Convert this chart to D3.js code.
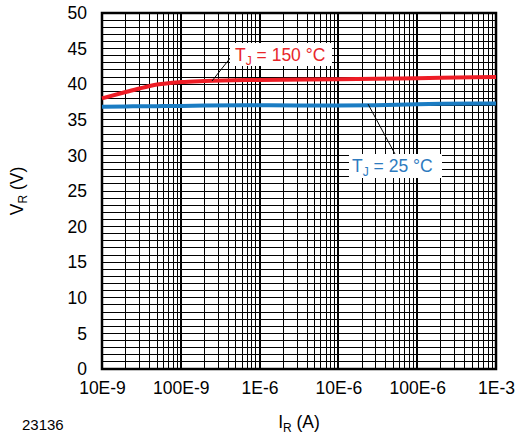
<!DOCTYPE html>
<html><head><meta charset="utf-8">
<script src="https://cdn.jsdelivr.net/npm/d3@7"></script>
<style>body{margin:0;background:#fff}svg{display:block}text{font-family:"Liberation Sans",Arial,sans-serif}</style>
</head><body>
<script>
const currents = [1e-8, 2e-8, 3e-8, 5e-8, 1e-7, 2e-7, 1e-6, 1e-5, 3e-5, 1e-4, 2e-4, 1e-3];
const vr150 = [38.0, 38.9, 39.4, 39.95, 40.3, 40.45, 40.6, 40.7, 40.75, 40.85, 40.9, 41.0];
const vr25 = [36.85, 36.88, 36.9, 36.92, 36.95, 37.0, 37.05, 37.0, 37.05, 37.2, 37.25, 37.3];
const xTicks = [1e-8, 1e-7, 1e-6, 1e-5, 1e-4, 1e-3];
const xTickLabels = ["10E-9", "100E-9", "1E-6", "10E-6", "100E-6", "1E-3"];
const yTicks = [0, 5, 10, 15, 20, 25, 30, 35, 40, 45, 50];

const W = 516, H = 437;
const m = {l: 102, r: 20, t: 13, b: 68};
const svg = d3.select("body").append("svg").attr("width", W).attr("height", H);
const x = d3.scaleLog().domain([1e-8, 1e-3]).range([m.l, W - m.r]);
const y = d3.scaleLinear().domain([0, 50]).range([H - m.b, m.t]);

// grid
const g = svg.append("g").attr("shape-rendering", "crispEdges");
const minorX = [];
for (let e = -8; e < -3; e++) for (let k = 2; k <= 9; k++) minorX.push(k * Math.pow(10, e));
g.selectAll(".vx").data(minorX).join("line")
  .attr("x1", d => x(d)).attr("x2", d => x(d)).attr("y1", y(0)).attr("y2", y(50))
  .attr("stroke", "#000").attr("stroke-width", 1);
g.selectAll(".vd").data(xTicks).join("line")
  .attr("x1", d => x(d)).attr("x2", d => x(d)).attr("y1", y(0)).attr("y2", y(50))
  .attr("stroke", "#000").attr("stroke-width", 2);
g.selectAll(".hy").data(d3.range(1, 50)).join("line")
  .attr("x1", x(1e-8)).attr("x2", x(1e-3)).attr("y1", d => y(d)).attr("y2", d => y(d))
  .attr("stroke", "#000").attr("stroke-width", 1);

// axes tick labels
const xa = svg.append("g").attr("transform", `translate(0,${y(0)})`)
  .call(d3.axisBottom(x).tickValues(xTicks).tickFormat((d, i) => xTickLabels[i]).tickSize(0).tickPadding(13));
xa.select(".domain").remove();
xa.selectAll("text").attr("font-size", 17.5).attr("fill", "#000").attr("font-family", "Liberation Sans, Arial, sans-serif");
const ya = svg.append("g").attr("transform", `translate(${x(1e-8)},0)`)
  .call(d3.axisLeft(y).tickValues(yTicks).tickSize(0).tickPadding(15));
ya.select(".domain").remove();
ya.selectAll("text").attr("font-size", 17.5).attr("fill", "#000").attr("font-family", "Liberation Sans, Arial, sans-serif");

// frame
svg.append("rect").attr("x", x(1e-8)).attr("y", y(50)).attr("width", x(1e-3) - x(1e-8)).attr("height", y(0) - y(50))
  .attr("fill", "none").attr("stroke", "#000").attr("stroke-width", 2.5);

// curves
const line = d3.line().x(d => x(d[0])).y(d => y(d[1])).curve(d3.curveMonotoneX);
svg.append("path").datum(currents.map((c, i) => [c, vr150[i]])).attr("d", line)
  .attr("fill", "none").attr("stroke", "#ee1c25").attr("stroke-width", 4);
svg.append("path").datum(currents.map((c, i) => [c, vr25[i]])).attr("d", line)
  .attr("fill", "none").attr("stroke", "#1a7cc3").attr("stroke-width", 4);

// labels
function label(bx, by, bw, bh, tx, ty, num, color, lx1, ly1, lx2, ly2) {
  svg.append("line").attr("x1", lx1).attr("y1", ly1).attr("x2", lx2).attr("y2", ly2).attr("stroke", "#000").attr("stroke-width", 1);
  svg.append("rect").attr("x", bx).attr("y", by).attr("width", bw).attr("height", bh).attr("fill", "#fff");
  const t = svg.append("text").attr("x", tx).attr("y", ty).attr("font-size", 17.5).attr("fill", color);
  t.append("tspan").text("T");
  t.append("tspan").attr("font-size", 12).attr("dy", 4).text("J");
  t.append("tspan").attr("dy", -4).text(" = " + num + " °C");
}
label(230, 43, 102, 23, 235, 61, "150", "#e8262a", 231, 57, 212, 81);
label(349, 154, 93, 24, 352, 172, "25", "#2e7bbf", 368, 104, 395, 154);

// axis titles
const yl = svg.append("text").attr("transform", `translate(23,${(y(0) + y(50)) / 2}) rotate(-90)`)
  .attr("text-anchor", "middle").attr("font-size", 17.5).attr("fill", "#000");
yl.append("tspan").text("V");
yl.append("tspan").attr("font-size", 12).attr("dy", 4).text("R");
yl.append("tspan").attr("dy", -4).text(" (V)");
const xl = svg.append("text").attr("x", (x(1e-8) + x(1e-3)) / 2).attr("y", 428)
  .attr("text-anchor", "middle").attr("font-size", 17.5).attr("fill", "#000");
xl.append("tspan").text("I");
xl.append("tspan").attr("font-size", 12).attr("dy", 4).text("R");
xl.append("tspan").attr("dy", -4).text(" (A)");
svg.append("text").attr("x", 22).attr("y", 430).attr("font-size", 15).attr("fill", "#000").text("23136");
</script>
</body></html>
